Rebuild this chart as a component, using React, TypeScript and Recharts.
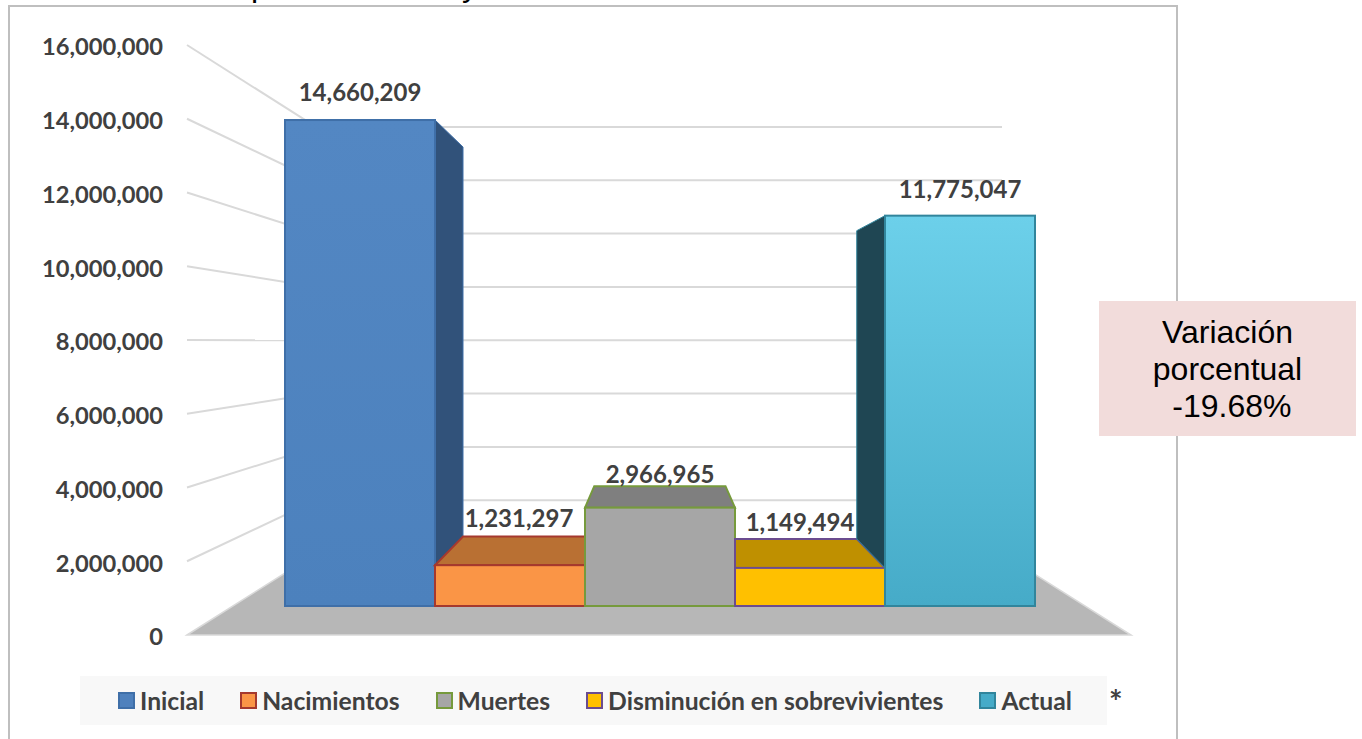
import React from 'react';
import { BarChart, Bar, XAxis, YAxis, Legend, LabelList, ReferenceLine } from 'recharts';

// values
const seriesNames = ['Inicial', 'Nacimientos', 'Muertes', 'Disminución en sobrevivientes', 'Actual'];
const seriesValues = [14660209, 1231297, 2966965, 1149494, 11775047];
const axisTicks = [0, 2000000, 4000000, 6000000, 8000000, 10000000, 12000000, 14000000, 16000000];
const categories = ['Población'];
const boxLines = ['Variación', 'porcentual', '\u00a0-19.68%'];

const chartData = categories.map((category) => {
  const row: { [key: string]: string | number } = { category };
  seriesNames.forEach((name, i) => {
    row[name] = seriesValues[i];
  });
  return row;
});

// looks of each series (front, edge, top face, side face, label shift)
const barStyles = [
  { fill: 'url(#fillInicial)', swatch: '#4f81bd', stroke: '#3f6fa8', top: '#31527a', side: '#31527a', dx: 0, lift: 29 },
  { fill: '#fa9546', swatch: '#fa9546', stroke: '#a5392e', top: '#b97033', side: '#b97033', dx: 9, lift: 48 },
  { fill: '#a6a6a6', swatch: '#a6a6a6', stroke: '#769a3c', top: '#7f7f7f', side: '#7f7f7f', dx: 0, lift: 34 },
  { fill: '#ffc000', swatch: '#ffc000', stroke: '#6b4c8f', top: '#bf9000', side: '#bf9000', dx: -10, lift: 46 },
  { fill: 'url(#fillActual)', swatch: '#46abc8', stroke: '#31859c', top: '#1f4653', side: '#1f4653', dx: 0, lift: 27 },
];

const TEXT_FONT = 'Lato, sans-serif';
const TEXT_COLOR = '#404040';
const WALL_COLOR = '#d9d9d9';

// perspective of the 3D look: front of the bars and the side wall lines
const VP_X = 659;
const BAR_VP_Y = 336;
const BAR_DEPTH = 0.875;
const WALL_VP_Y = 341;
const WALL_DEPTH_X = 0.7267;
const WALL_DEPTH_Y = 0.7232;

const recede = (x: number, y: number) => [VP_X + (x - VP_X) * BAR_DEPTH, BAR_VP_Y + (y - BAR_VP_Y) * BAR_DEPTH];

const pts = (list: number[][]) => list.map((p) => p.join(',')).join(' ');

// draws the box of one series: side and top faces first, then the front
const makeBarShape = (index: number) => (props: any) => {
  const { x, y, width, height } = props;
  const style = barStyles[index];
  const xr = x + width;
  const base = y + height;
  const topOf = (i: number) => base - seriesValues[i] * (height / seriesValues[index]);
  const faces: React.ReactNode[] = [];

  // right side, only if it looks towards the middle and the neighbour is lower
  if (xr < VP_X && index < seriesValues.length - 1 && seriesValues[index + 1] < seriesValues[index]) {
    const low = topOf(index + 1);
    const a = recede(xr, y);
    const b = recede(xr, low);
    faces.push(<polygon key="side" points={pts([[xr, y], a, b, [xr, low]])} fill={style.side} stroke={style.stroke} strokeWidth={1} />);
  }
  if (x > VP_X && index > 0 && seriesValues[index - 1] < seriesValues[index]) {
    const low = topOf(index - 1);
    const a = recede(x, y);
    const b = recede(x, low);
    faces.push(<polygon key="side" points={pts([[x, y], a, b, [x, low]])} fill={style.side} stroke={style.stroke} strokeWidth={1} />);
  }

  // top face shows only below the vanishing point
  if (y > BAR_VP_Y) {
    const [bl, by] = recede(x, y);
    const [br] = recede(xr, y);
    faces.push(
      <polygon
        key="top"
        points={pts([[x, y], [xr, y], [Math.min(br, xr), by], [Math.max(bl, x), by]])}
        fill={style.top}
        stroke={style.stroke}
        strokeWidth={2}
      />
    );
  }

  return (
    <g>
      {faces}
      <rect x={x} y={y} width={width} height={height} fill={style.fill} stroke={style.stroke} strokeWidth={2} />
    </g>
  );
};

// one tick: line on the side wall, line on the back wall, and the floor for the zero tick
const wallShape = (tick: number) => (props: any) => {
  const { x1, x2, y1 } = props;
  const bx1 = VP_X + (x1 - VP_X) * WALL_DEPTH_X;
  const bx2 = VP_X + (x2 - VP_X) * WALL_DEPTH_X;
  const by = WALL_VP_Y + (y1 - WALL_VP_Y) * WALL_DEPTH_Y;
  if (tick === 0) {
    return <polygon points={pts([[x1, y1], [bx1, by], [bx2, by], [x2, y1]])} fill="#b7b7b7" stroke={WALL_COLOR} strokeWidth={1.5} />;
  }
  return (
    <g fill="none" stroke={WALL_COLOR} strokeWidth={2}>
      <line x1={x1} y1={y1} x2={bx1} y2={by} />
      <line x1={bx1} y1={by} x2={bx2} y2={by} />
    </g>
  );
};

const makeLabel = (index: number) => (props: any) => {
  const { x, y, width, value } = props;
  return (
    <text
      x={x + width / 2 + barStyles[index].dx}
      y={y - barStyles[index].lift}
      textAnchor="middle"
      dominantBaseline="central"
      fontFamily={TEXT_FONT}
      fontWeight={700}
      fontSize={24}
      fill={TEXT_COLOR}
    >
      {Number(value).toLocaleString('en-US')}
    </text>
  );
};

const LegendBand = (props: any) => (
  <div style={{ display: 'flex', alignItems: 'center', height: 49, paddingLeft: 38, fontFamily: TEXT_FONT, fontWeight: 700, fontSize: 24.7, color: TEXT_COLOR, background: '#f8f8f8' }}>
    {(props.payload || []).map((item: any, i: number) => (
      <div key={item.value} style={{ display: 'flex', alignItems: 'center', marginRight: 36, whiteSpace: 'nowrap' }}>
        <span style={{ width: 13, height: 13, marginRight: 5, background: barStyles[i].swatch, border: '2px solid ' + barStyles[i].stroke }} />
        {item.value}
      </div>
    ))}
  </div>
);

export default function App() {
  return (
    <div style={{ position: 'absolute', left: 0, top: 0, width: 1362, height: 739, overflow: 'hidden', background: '#fff' }}>
      {/* chart frame, runs off the bottom of the picture */}
      <div style={{ position: 'absolute', left: 8, top: 5, width: 1166, height: 760, border: '2px solid #bfbfbf' }} />

      {/* only the descenders of the heading are in the picture */}
      <div style={{ position: 'absolute', left: 251, top: -33, fontFamily: 'Liberation Sans', fontSize: 32, lineHeight: '37px', color: '#000' }}>p</div>
      <div style={{ position: 'absolute', left: 462, top: -33, fontFamily: 'Liberation Sans', fontSize: 32, lineHeight: '37px', color: '#000' }}>y</div>

      <div style={{ position: 'absolute', left: 0, top: 0 }}>
        <BarChart
          width={1362}
          height={739}
          data={chartData}
          margin={{ top: 45, right: 231, bottom: 104, left: 0 }}
          barCategoryGap={98}
          barGap={0}
        >
          <defs>
            <linearGradient id="fillInicial" x1="0" y1="0" x2="0" y2="1">
              <stop offset="0%" stopColor="#5387c3" />
              <stop offset="100%" stopColor="#4c81bd" />
            </linearGradient>
            <linearGradient id="fillActual" x1="0" y1="0" x2="0" y2="1">
              <stop offset="0%" stopColor="#6cd0ea" />
              <stop offset="100%" stopColor="#46abc8" />
            </linearGradient>
          </defs>
          <XAxis dataKey="category" hide />
          <YAxis
            yAxisId="ticks"
            width={187}
            domain={[0, 16000000]}
            allowDataOverflow
            ticks={axisTicks}
            interval={0}
            tickFormatter={(v: number) => v.toLocaleString('en-US')}
            axisLine={false}
            tickLine={false}
            tickSize={0}
            tickMargin={24}
            tick={{ fontFamily: TEXT_FONT, fontWeight: 700, fontSize: 23.7, fill: TEXT_COLOR, dy: 2 }}
          />
          {/* the bars stand on the front edge of the floor, so they have a scale of their own */}
          <YAxis yAxisId="bars" hide width={0} domain={[-874800, 16923000]} allowDataOverflow />
          {axisTicks.map((t) => (
            <ReferenceLine key={t} yAxisId="ticks" y={t} shape={wallShape(t)} zIndex={-100} />
          ))}
          {seriesNames.map((name, i) => (
            <Bar key={name} yAxisId="bars" dataKey={name} name={name} fill={barStyles[i].swatch} shape={makeBarShape(i)} isAnimationActive={false}>
              <LabelList dataKey={name} content={makeLabel(i)} />
            </Bar>
          ))}
          <Legend
            content={<LegendBand />}
            itemSorter={null}
            layout="horizontal"
            align="center"
            verticalAlign="middle"
            wrapperStyle={{ position: 'absolute', left: 80, top: 676, width: 1027, height: 49 }}
          />
        </BarChart>
      </div>

      <div style={{ position: 'absolute', left: 1109, top: 682, fontFamily: TEXT_FONT, fontWeight: 700, fontSize: 32, color: TEXT_COLOR }}>*</div>

      <div style={{ position: 'absolute', left: 1099, top: 301, width: 257, height: 135, background: '#f2dcdb', boxSizing: 'border-box', paddingTop: 13, textAlign: 'center', fontFamily: 'Liberation Sans', fontSize: 32, lineHeight: '37px', color: '#000' }}>
        {boxLines.map((line) => (
          <div key={line}>{line}</div>
        ))}
      </div>
    </div>
  );
}
